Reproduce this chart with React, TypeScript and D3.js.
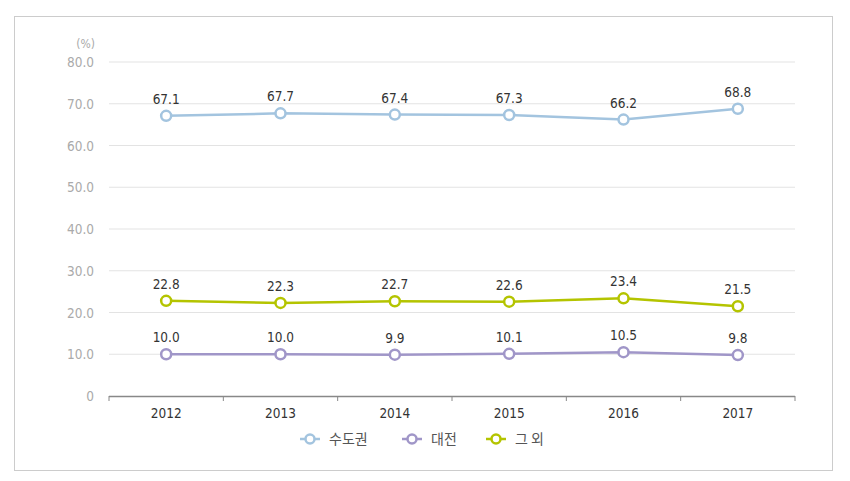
import React from "react";
import * as d3 from "d3";

const years = ["2012", "2013", "2014", "2015", "2016", "2017"];
const seriesNames = ["수도권", "대전", "그 외"];
const capital = [67.1, 67.7, 67.4, 67.3, 66.2, 68.8];
const daejeon = [10.0, 10.0, 9.9, 10.1, 10.5, 9.8];
const others = [22.8, 22.3, 22.7, 22.6, 23.4, 21.5];
const yTicks = [0, 10, 20, 30, 40, 50, 60, 70, 80];
const colors = ["#a3c4df", "#a096c8", "#b4c400"];

export default function App() {
  const W = 850, H = 481;
  const x = d3.scaleBand<string>().domain(years).range([109, 795]);
  const y = d3.scaleLinear().domain([0, 80]).range([396, 62]);
  const series = [capital, daejeon, others];
  const line = d3
    .line<number>()
    .x((_, i) => x(years[i])! + x.bandwidth() / 2)
    .y((d) => y(d));
  const font = "'DejaVu Sans Condensed', 'Roboto', sans-serif";
  const legendX = [310, 412, 496];
  return (
    <svg width={W} height={H} style={{ position: "absolute", left: 0, top: 0 }} fontFamily={font}>
      <rect x={0} y={0} width={W} height={H} fill="#fff" />
      <rect x={14.5} y={16.5} width={818} height={454} fill="none" stroke="#cccccc" strokeWidth={1} />
      <text x={95} y={48} textAnchor="end" fontSize={12} fill="#aaa">(%)</text>
      {yTicks.map((t) => (
        <g key={t}>
          {t > 0 && (
            <line x1={109} x2={795} y1={y(t)} y2={y(t)} stroke="#e3e3e3" strokeWidth={1} />
          )}
          <text x={94} y={y(t) + 5} textAnchor="end" fontSize={13.5} fill="#aaa">
            {t === 0 ? "0" : t.toFixed(1)}
          </text>
        </g>
      ))}
      <line x1={109} x2={795} y1={396.5} y2={396.5} stroke="#888" strokeWidth={1.5} />
      {[...years.map((yr) => x(yr)!), 795].map((px, i) => (
        <line key={i} x1={px} x2={px} y1={396} y2={401} stroke="#888" strokeWidth={1} />
      ))}
      {years.map((yr) => (
        <text key={yr} x={x(yr)! + x.bandwidth() / 2} y={418} textAnchor="middle" fontSize={13.5} fill="#333">
          {yr}
        </text>
      ))}
      {series.map((s, si) => (
        <g key={si}>
          <path d={line(s) || ""} fill="none" stroke={colors[si]} strokeWidth={2.5} />
          {s.map((v, i) => {
            const cx = x(years[i])! + x.bandwidth() / 2;
            return (
              <g key={i}>
                <circle cx={cx} cy={y(v)} r={5} fill="#fff" stroke={colors[si]} strokeWidth={2.5} />
                <text x={cx} y={y(v) - 12} textAnchor="middle" fontSize={13.5} fill="#333">
                  {v.toFixed(1)}
                </text>
              </g>
            );
          })}
        </g>
      ))}
      {seriesNames.map((n, i) => (
        <g key={n}>
          <line x1={legendX[i] - 10} x2={legendX[i] + 10} y1={439} y2={439} stroke={colors[i]} strokeWidth={2.5} />
          <circle cx={legendX[i]} cy={439} r={4.5} fill="#fff" stroke={colors[i]} strokeWidth={2.5} />
          <text x={legendX[i] + 19} y={444} fontSize={14} fill="#555" fontFamily="'Noto Sans CJK KR', sans-serif">
            {n}
          </text>
        </g>
      ))}
    </svg>
  );
}
